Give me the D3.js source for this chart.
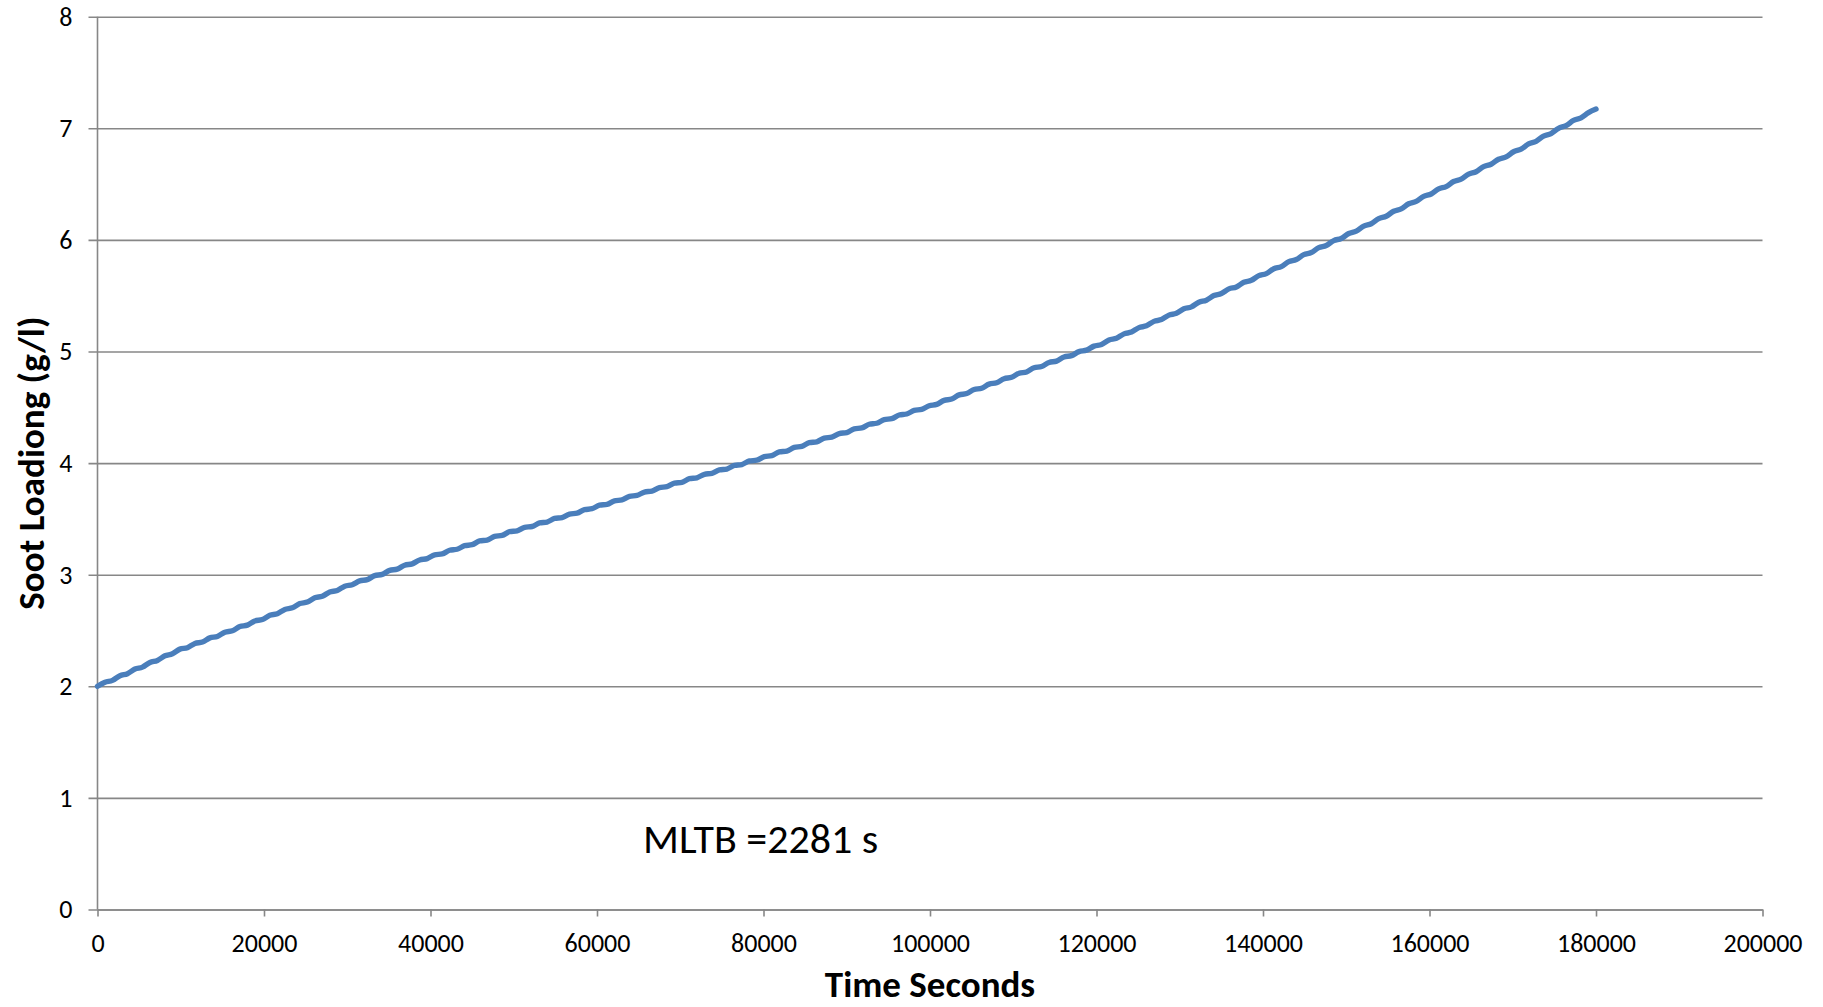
<!DOCTYPE html>
<html>
<head>
<meta charset="utf-8">
<script src="https://cdn.jsdelivr.net/npm/d3@7"></script>
<style>
  html, body { margin: 0; padding: 0; background: #ffffff; }
  svg { display: block; }
  text { font-family: Carlito, Calibri, Lato, "Open Sans", sans-serif; fill: #000; }
</style>
</head>
<body>
<svg id="chart" width="1823" height="1007"></svg>
<script>
// Soot loading in the filter, logged every 900 s from 0 to 180000 s
const sampleIntervalSeconds = 900;
const sootLoading = [
  2.000, 2.036, 2.053, 2.095, 2.113, 2.155, 2.172, 2.214, 2.232, 2.273,
  2.291, 2.333, 2.346, 2.384, 2.397, 2.434, 2.447, 2.484, 2.498, 2.535,
  2.548, 2.585, 2.598, 2.636, 2.650, 2.689, 2.703, 2.741, 2.755, 2.793,
  2.807, 2.845, 2.859, 2.897, 2.910, 2.945, 2.956, 2.992, 3.003, 3.039,
  3.050, 3.085, 3.097, 3.132, 3.144, 3.178, 3.186, 3.219, 3.228, 3.260,
  3.269, 3.302, 3.310, 3.343, 3.352, 3.385, 3.393, 3.425, 3.432, 3.464,
  3.472, 3.504, 3.512, 3.543, 3.551, 3.583, 3.591, 3.623, 3.630, 3.662,
  3.670, 3.702, 3.710, 3.741, 3.749, 3.781, 3.789, 3.821, 3.828, 3.860,
  3.868, 3.900, 3.908, 3.939, 3.947, 3.979, 3.987, 4.019, 4.026, 4.058,
  4.067, 4.100, 4.108, 4.141, 4.150, 4.183, 4.191, 4.224, 4.233, 4.265,
  4.274, 4.307, 4.315, 4.348, 4.357, 4.390, 4.398, 4.431, 4.440, 4.472,
  4.481, 4.514, 4.526, 4.562, 4.574, 4.611, 4.623, 4.659, 4.671, 4.708,
  4.720, 4.756, 4.769, 4.805, 4.817, 4.854, 4.866, 4.902, 4.914, 4.951,
  4.963, 4.999, 5.012, 5.048, 5.063, 5.103, 5.118, 5.158, 5.174, 5.214,
  5.230, 5.270, 5.286, 5.326, 5.342, 5.383, 5.400, 5.442, 5.460, 5.501,
  5.519, 5.561, 5.578, 5.620, 5.638, 5.680, 5.698, 5.742, 5.761, 5.805,
  5.824, 5.868, 5.887, 5.931, 5.950, 5.994, 6.013, 6.057, 6.078, 6.124,
  6.145, 6.190, 6.212, 6.257, 6.278, 6.324, 6.345, 6.390, 6.411, 6.457,
  6.478, 6.523, 6.545, 6.590, 6.611, 6.657, 6.678, 6.723, 6.744, 6.790,
  6.813, 6.860, 6.883, 6.930, 6.953, 7.000, 7.024, 7.071, 7.094, 7.141,
  7.172
];

const xTickValues = [0, 20000, 40000, 60000, 80000, 100000, 120000, 140000, 160000, 180000, 200000];
const yTickValues = [0, 1, 2, 3, 4, 5, 6, 7, 8];
const xAxisTitle = "Time Seconds";
const yAxisTitle = "Soot Loadiong (g/l)";
const annotationText = "MLTB =2281 s";

const plot = { left: 97.5, right: 1762.5, top: 16.7, bottom: 909.5 };
const gridColor = "#878787";
const lineColor = "#4a7ebb";
const labelFont = "Carlito, Calibri, Lato, 'Open Sans', sans-serif";

const svg = d3.select("#chart");

const x = d3.scaleLinear().domain([0, 200000]).range([plot.left, plot.right]);
const y = d3.scaleLinear().domain([0, 8]).range([plot.bottom, plot.top]);

// horizontal gridlines, extended left to form the y tick marks
const yAxis = d3.axisLeft(y)
  .tickValues(yTickValues)
  .tickSize(plot.right - plot.left + 9)
  .tickPadding(16)
  .tickFormat(d3.format("d"));

const gy = svg.append("g")
  .attr("transform", `translate(${plot.right},0)`)
  .call(yAxis);
gy.select(".domain").remove();
gy.selectAll(".tick line")
  .attr("stroke", gridColor)
  .attr("stroke-width", 1.6);
gy.selectAll(".tick text")
  .attr("font-size", 26)
  .attr("font-family", labelFont)
  .attr("fill", "#000");

// x axis with short downward ticks
const xAxis = d3.axisBottom(x)
  .tickValues(xTickValues)
  .tickSize(7)
  .tickSizeOuter(0)
  .tickPadding(17)
  .tickFormat(d3.format("d"));

const gx = svg.append("g")
  .attr("transform", `translate(0,${plot.bottom})`)
  .call(xAxis);
gx.select(".domain").attr("stroke", gridColor).attr("stroke-width", 1.6);
gx.selectAll(".tick line").attr("stroke", gridColor).attr("stroke-width", 1.6);
gx.selectAll(".tick text")
  .attr("font-size", 26)
  .attr("font-family", labelFont)
  .attr("fill", "#000");

// vertical axis line
svg.append("line")
  .attr("x1", x(0)).attr("x2", x(0))
  .attr("y1", y(8)).attr("y2", y(0))
  .attr("stroke", gridColor)
  .attr("stroke-width", 1.6);

// soot loading curve
const points = sootLoading.map((v, i) => [i * sampleIntervalSeconds, v]);
const line = d3.line()
  .x(d => x(d[0]))
  .y(d => y(d[1]))
  .curve(d3.curveMonotoneX);

svg.append("path")
  .datum(points)
  .attr("fill", "none")
  .attr("stroke", lineColor)
  .attr("stroke-width", 5.4)
  .attr("stroke-linecap", "round")
  .attr("stroke-linejoin", "round")
  .attr("d", line);

// annotation inside the plot
svg.append("text")
  .attr("x", 643)
  .attr("y", 853)
  .attr("font-size", 42)
  .text(annotationText);

// axis titles
svg.append("text")
  .attr("x", (plot.left + plot.right) / 2)
  .attr("y", 997)
  .attr("text-anchor", "middle")
  .attr("font-size", 37)
  .attr("font-weight", "bold")
  .text(xAxisTitle);

svg.append("text")
  .attr("transform", `translate(44,${(plot.top + plot.bottom) / 2}) rotate(-90)`)
  .attr("text-anchor", "middle")
  .attr("font-size", 37)
  .attr("font-weight", "bold")
  .text(yAxisTitle);
</script>
</body>
</html>
